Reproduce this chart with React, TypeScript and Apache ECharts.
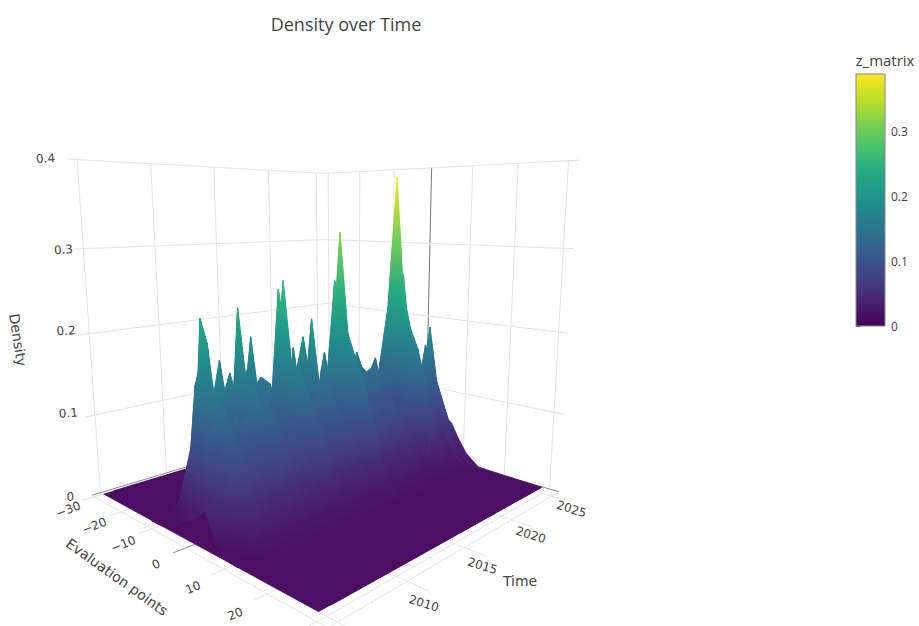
import React, { useEffect, useRef } from "react";
import * as echarts from "echarts";

// ---------- values ----------
const chartTitle = "Density over Time";
const colorbarTitle = "z_matrix";
const timeTicks = [2005, 2010, 2015, 2020, 2025];
const timeLabels = [2010, 2015, 2020, 2025];
const evalTicks = [-30, -20, -10, 0, 10, 20, 30];
const evalLabels = [-30, -20, -10, 0, 10, 20];
const zTicks = [0, 0.1, 0.2, 0.3, 0.4];
const zMaxValue = 0.388;

const evalPoints = [-30, -13, -11, -9, -7, -5, -3, -1, 1, 3, 5, 7, 9, 11, 14, 28.5];
const timePoints = [
  2005, 2005.8, 2006.15, 2006.45, 2006.65, 2007.05, 2007.35, 2007.85, 2008.15, 2008.55,
  2008.85, 2009.25, 2009.55, 2009.85, 2010.15, 2010.45, 2010.85, 2011.55, 2011.95, 2012.35,
  2012.55, 2012.75, 2013.05, 2013.25, 2013.5, 2013.75, 2014.35, 2014.75, 2015.1, 2015.25,
  2015.55, 2015.95, 2016.5, 2016.75, 2017, 2017.25, 2017.4, 2017.6, 2018, 2018.6,
  2019.1, 2019.6, 2020.1, 2020.5, 2021.2, 2021.75, 2022.2, 2022.6, 2022.85, 2023.1,
  2023.45, 2023.75, 2024, 2024.35, 2024.6, 2024.85, 2025.15, 2025.4, 2025.65, 2025.9,
];
const zMatrix = [
  [0, 0, 0, .001, .005, .012, .02, .025, .032, .045, .025, .008, .001, 0, 0, 0],
  [0, 0, .001, .004, .01, .018, .026, .03, .04, .05, .03, .011, .002, 0, 0, 0],
  [0, .002, .008, .026, .059, .092, .164, .102, .121, .102, .087, .063, .037, .017, .003, 0],
  [0, .002, .009, .029, .065, .101, .18, .112, .129, .108, .093, .067, .039, .019, .003, 0],
  [0, .002, .012, .037, .084, .131, .234, .145, .152, .128, .11, .079, .046, .022, .004, 0],
  [0, .002, .01, .033, .075, .116, .207, .128, .14, .118, .101, .073, .043, .02, .003, 0],
  [0, .001, .007, .024, .053, .083, .148, .092, .115, .097, .083, .06, .035, .017, .003, 0],
  [0, .002, .009, .03, .067, .104, .186, .115, .131, .11, .095, .068, .04, .019, .003, 0],
  [0, .002, .008, .024, .054, .085, .151, .094, .116, .098, .084, .06, .035, .017, .003, 0],
  [0, .002, .009, .027, .061, .095, .17, .105, .125, .105, .09, .065, .038, .018, .003, 0],
  [0, .002, .008, .024, .054, .084, .15, .093, .116, .097, .083, .06, .035, .017, .003, 0],
  [0, .002, .012, .038, .086, .134, .24, .149, .155, .13, .112, .081, .047, .022, .004, 0],
  [0, .002, .008, .027, .06, .093, .166, .103, .123, .103, .088, .064, .037, .018, .003, 0],
  [0, .002, .009, .027, .061, .095, .17, .105, .128, .11, .092, .065, .038, .018, .003, 0],
  [0, .002, .01, .033, .074, .115, .206, .128, .14, .118, .101, .073, .043, .02, .003, 0],
  [0, .002, .008, .024, .054, .084, .15, .093, .116, .097, .083, .06, .035, .017, .003, 0],
  [0, .002, .008, .025, .057, .088, .158, .098, .119, .1, .086, .062, .036, .017, .003, 0],
  [0, .001, .007, .024, .053, .083, .148, .092, .115, .097, .083, .06, .035, .017, .003, 0],
  [0, .001, .006, .02, .044, .069, .123, .076, .104, .09, .078, .054, .032, .015, .002, 0],
  [0, .003, .013, .041, .092, .143, .256, .159, .162, .136, .117, .084, .049, .023, .004, 0],
  [0, .002, .012, .038, .085, .132, .235, .146, .153, .128, .11, .079, .046, .022, .004, 0],
  [0, .003, .013, .042, .095, .148, .265, .164, .166, .139, .119, .086, .05, .024, .004, 0],
  [0, .002, .01, .03, .068, .106, .19, .118, .133, .112, .096, .069, .04, .019, .003, 0],
  [0, .001, .007, .024, .053, .082, .147, .091, .114, .099, .085, .059, .035, .016, .003, 0],
  [0, .002, .009, .03, .067, .104, .185, .115, .131, .11, .094, .068, .04, .019, .003, 0],
  [0, .002, .008, .025, .057, .088, .157, .097, .118, .099, .085, .061, .036, .017, .003, 0],
  [0, .002, .01, .031, .071, .11, .196, .122, .136, .114, .098, .071, .041, .02, .003, 0],
  [0, .002, .008, .025, .057, .088, .158, .098, .119, .104, .088, .062, .036, .017, .003, 0],
  [0, .002, .011, .035, .078, .121, .216, .134, .145, .122, .104, .075, .044, .021, .003, 0],
  [0, 0, .002, .008, .025, .055, .086, .154, .095, .103, .089, .066, .038, .017, .003, 0],
  [0, 0, .002, .009, .028, .063, .099, .176, .109, .112, .097, .071, .041, .018, .003, 0],
  [0, 0, .001, .007, .023, .052, .081, .144, .089, .099, .086, .063, .036, .016, .003, 0],
  [0, .001, .003, .013, .042, .094, .146, .261, .162, .144, .124, .092, .052, .024, .004, 0],
  [0, .001, .003, .013, .04, .09, .14, .25, .155, .14, .121, .089, .051, .023, .004, 0],
  [0, .001, .003, .016, .051, .114, .178, .318, .197, .167, .144, .106, .06, .027, .005, 0],
  [0, 0, .002, .01, .032, .072, .112, .2, .124, .121, .105, .077, .044, .02, .003, 0],
  [0, 0, .002, .008, .024, .054, .085, .151, .094, .103, .088, .065, .037, .017, .003, 0],
  [0, 0, .002, .009, .028, .062, .097, .173, .107, .111, .096, .071, .04, .018, .003, 0],
  [0, 0, .001, .007, .022, .05, .077, .138, .086, .097, .084, .062, .035, .016, .003, 0],
  [0, 0, .002, .008, .027, .06, .094, .168, .104, .109, .094, .069, .04, .018, .003, 0],
  [0, 0, .001, .007, .024, .053, .082, .147, .091, .1, .087, .064, .037, .016, .003, 0],
  [0, 0, .001, .007, .022, .05, .078, .139, .086, .098, .084, .062, .036, .016, .003, 0],
  [0, 0, .001, .007, .023, .051, .08, .143, .089, .099, .086, .063, .036, .016, .003, 0],
  [0, 0, .002, .008, .025, .056, .087, .155, .096, .103, .089, .066, .038, .017, .003, 0],
  [0, 0, .001, .006, .018, .041, .064, .115, .071, .088, .08, .056, .032, .014, .002, 0],
  [0, 0, .001, .007, .021, .047, .073, .13, .081, .094, .081, .06, .034, .015, .003, 0],
  [0, 0, .001, .006, .02, .045, .07, .125, .078, .092, .08, .059, .034, .015, .003, 0],
  [0, .001, .004, .019, .062, .139, .216, .385, .239, .192, .166, .122, .07, .031, .005, 0],
  [0, 0, .002, .01, .032, .072, .112, .2, .124, .121, .105, .077, .044, .02, .003, 0],
  [0, 0, .002, .011, .035, .079, .123, .22, .136, .129, .111, .082, .047, .021, .004, 0],
  [0, .001, .003, .013, .042, .094, .146, .26, .161, .144, .124, .092, .052, .024, .004, 0],
  [0, 0, 0, .001, .005, .017, .038, .059, .105, .065, .073, .054, .031, .014, .002, 0],
  [0, 0, 0, .001, .006, .019, .042, .065, .116, .072, .077, .057, .032, .015, .002, 0],
  [0, 0, 0, 0, .002, .008, .026, .059, .092, .165, .102, .076, .05, .024, .004, 0],
  [0, 0, 0, 0, .002, .008, .025, .056, .087, .155, .096, .072, .048, .023, .004, 0],
  [0, 0, 0, 0, .002, .009, .03, .068, .106, .189, .117, .085, .055, .026, .004, 0],
  [0, 0, 0, 0, .001, .006, .018, .04, .062, .11, .068, .058, .038, .019, .003, 0],
  [0, 0, 0, 0, .001, .005, .016, .036, .06, .07, .06, .045, .03, .015, .002, 0],
  [0, 0, 0, 0, 0, .002, .01, .025, .045, .062, .065, .05, .03, .014, .002, 0],
  [0, 0, 0, 0, 0, .001, .005, .015, .034, .055, .065, .055, .034, .017, .003, 0],
];

const viridis = [
  "#440154", "#482475", "#414487", "#355f8d", "#2a788e", "#21918c",
  "#22a884", "#44bf70", "#7ad151", "#bddf26", "#fde725",
];
const surfaceRamp = [
  "#4b0e63", "#482475", "#414487", "#355f8d", "#2a788e", "#21918c",
  "#22a884", "#44bf70", "#7ad151", "#bddf26", "#fde725",
];

// ---------- camera calibration: [evaluation, time, density, pageX, pageY] ----------
const EVAL_MIN = -31;
const EVAL_MAX = 32;
const TIME_MIN = 2004.4;
const TIME_MAX = 2026;
const Z_TOP = 0.4;
const cameraAnchors = [
  [-31, 2005, 0.4, 76, 159], [-31, 2010, 0.4, 150, 164], [-31, 2015, 0.4, 214, 168],
  [-31, 2020, 0.4, 270, 172], [-31, 2025, 0.4, 319, 174.5],
  [-30, 2026, 0.4, 329, 175], [-20, 2026, 0.4, 360, 172.7], [-10, 2026, 0.4, 394, 170],
  [0, 2026, 0.4, 431, 167.6], [10, 2026, 0.4, 473, 164.5], [20, 2026, 0.4, 517, 161.4],
  [30, 2026, 0.4, 568, 158],
  [-31, 2005, 0, 92, 489], [-31, 2010, 0, 160, 470], [-30, 2026, 0, 329, 425],
  [0, 2026, 0, 424, 453], [30, 2026, 0, 552, 491], [32, 2004.4, 0, 314, 626],
  [-20, 2003.6, 0, 117, 518], [-10, 2003.6, 0, 145, 535], [0, 2003.6, 0, 178, 555],
  [20, 2003.6, 0, 257, 602], [-10, 2003.6, 0, 145, 535], [0, 2003.6, 0, 178, 555],
  [-31, 2005, 0.2, 85, 330], [30, 2026, 0.2, 558, 332], [-30, 2026, 0.2, 329, 303],
];

function solveCamera(): number[] {
  const n = 11;
  const A: number[][] = Array.from({ length: n }, () => new Array(n + 1).fill(0));
  const add = (r: number[], b: number) => {
    for (let i = 0; i < n; i++) {
      for (let j = 0; j < n; j++) A[i][j] += r[i] * r[j];
      A[i][n] += r[i] * b;
    }
  };
  for (const [e, t, z, x, y] of cameraAnchors) {
    const u = e / 30, v = (t - 2015) / 10, w = z / 0.4;
    add([u, v, w, 1, 0, 0, 0, 0, -x * u, -x * v, -x * w], x);
    add([0, 0, 0, 0, u, v, w, 1, -y * u, -y * v, -y * w], y);
  }
  for (let c = 0; c < n; c++) {
    let p = c;
    for (let r = c + 1; r < n; r++) if (Math.abs(A[r][c]) > Math.abs(A[p][c])) p = r;
    [A[c], A[p]] = [A[p], A[c]];
    for (let r = 0; r < n; r++) {
      if (r === c) continue;
      const f = A[r][c] / A[c][c];
      for (let k = c; k <= n; k++) A[r][k] -= f * A[c][k];
    }
  }
  return A.map((row, i) => row[n] / row[i]);
}
const cam = solveCamera();
function project(e: number, t: number, z: number): number[] {
  const u = e / 30, v = (t - 2015) / 10, w = z / 0.4;
  const d = cam[8] * u + cam[9] * v + cam[10] * w + 1;
  return [
    (cam[0] * u + cam[1] * v + cam[2] * w + cam[3]) / d,
    (cam[4] * u + cam[5] * v + cam[6] * w + cam[7]) / d,
  ];
}

function rampColor(stops: string[], z: number): string {
  const f = Math.max(0, Math.min(1, z / zMaxValue)) * (stops.length - 1);
  const i = Math.min(stops.length - 2, Math.floor(f));
  const a = echarts.color.parse(stops[i]);
  const b = echarts.color.parse(stops[i + 1]);
  const k = f - i;
  return `rgb(${Math.round(a[0] + (b[0] - a[0]) * k)},${Math.round(a[1] + (b[1] - a[1]) * k)},${Math.round(a[2] + (b[2] - a[2]) * k)})`;
}

type Seg = { a: number[]; b: number[]; color: string; width: number };
const GRID = "#e4e4e4";
const ZERO = "#8a8a8a";
function buildSegments(): Seg[] {
  const s: Seg[] = [];
  for (const t of timeTicks) {
    s.push({ a: [EVAL_MIN, t, 0], b: [EVAL_MIN, t, Z_TOP], color: GRID, width: 1 });
    s.push({ a: [EVAL_MIN, t, 0], b: [EVAL_MAX + 4, t, 0], color: GRID, width: 1 });
  }
  for (const e of evalTicks) {
    s.push({ a: [e, TIME_MAX, 0], b: [e, TIME_MAX, Z_TOP], color: e === 0 ? "#777" : GRID, width: 1 });
    s.push({ a: [e, TIME_MAX, 0], b: [e, TIME_MIN - 0.8, 0], color: e === 0 ? ZERO : GRID, width: 1 });
  }
  for (const z of zTicks) {
    const c = z === 0 ? ZERO : GRID;
    s.push({ a: [EVAL_MIN, TIME_MIN, z], b: [EVAL_MIN, TIME_MAX, z], color: c, width: 1 });
    s.push({ a: [EVAL_MIN, TIME_MAX, z], b: [EVAL_MAX, TIME_MAX, z], color: c, width: 1 });
  }
  s.push({ a: [EVAL_MIN, TIME_MIN, 0], b: [EVAL_MAX, TIME_MIN, 0], color: GRID, width: 1 });
  s.push({ a: [EVAL_MAX, TIME_MIN, 0], b: [EVAL_MAX, TIME_MAX, 0], color: GRID, width: 1 });
  return s;
}

type Quad = { i: number; j: number };
function buildQuads(): Quad[] {
  const q: Quad[] = [];
  for (let i = timePoints.length - 2; i >= 0; i--) {
    for (let j = 0; j < evalPoints.length - 1; j++) {
      const sum = zMatrix[i][j] + zMatrix[i][j + 1] + zMatrix[i + 1][j] + zMatrix[i + 1][j + 1];
      if (sum > 0) q.push({ i, j });
    }
  }
  return q;
}

type Lab = { text: string; at: number[]; rot: number; dx: number; dy: number };
const zLabelShift = [[-4, 4], [0, -2], [4, -3], [8, 1], [-3, -1]];
function buildLabels(): Lab[] {
  const l: Lab[] = [];
  for (const e of evalLabels) {
    l.push({ text: String(e).replace("-", "\u2212"), at: [e - 1, TIME_MIN - 2.3, 0], rot: 0.38, dx: 11, dy: 4 });
  }
  for (const t of timeLabels) {
    l.push({ text: String(t), at: [EVAL_MAX + 5.3, t - 1.1, 0], rot: -0.3, dx: 1, dy: 0 });
  }
  zTicks.forEach((z, i) => {
    l.push({ text: String(z), at: [EVAL_MIN - 3.5, TIME_MIN - 0.6, z], rot: z === 0 ? 0 : 0.06, dx: zLabelShift[i][0], dy: zLabelShift[i][1] });
  });
  return l;
}

export default function App() {
  const ref = useRef<HTMLDivElement>(null);
  useEffect(() => {
    if (!ref.current) return;
    const chart = echarts.init(ref.current, undefined, { renderer: "svg" });
    const segs = buildSegments();
    const quads = buildQuads();
    const labels = buildLabels();
    const axisFont = "'DejaVu Sans', sans-serif";
    const uiFont = "'Open Sans', sans-serif";
    const lastT = timePoints.length - 1;
    const lastE = evalPoints.length - 1;

    chart.setOption({
      animation: false,
      backgroundColor: "#ffffff",
      title: {
        text: chartTitle,
        left: 341,
        top: 10,
        textAlign: "center",
        textStyle: { fontFamily: uiFont, fontSize: 18, fontWeight: "normal", color: "#444" },
      },
      grid: [
        { left: 0, top: 0, width: 919, height: 626 },
        { left: 856, top: 74, width: 29, height: 252 },
      ],
      xAxis: [
        { type: "value", min: 0, max: 919, show: false, gridIndex: 0 },
        { type: "value", min: 0, max: 1, show: false, gridIndex: 1 },
      ],
      yAxis: [
        { type: "value", min: 0, max: 626, inverse: true, show: false, gridIndex: 0 },
        {
          type: "value", min: 0, max: zMaxValue, interval: 0.1, gridIndex: 1, position: "right",
          axisLine: { show: false },
          axisTick: { show: true, length: 4, lineStyle: { color: "#444" } },
          splitLine: { show: false },
          axisLabel: {
            color: "#444", fontFamily: uiFont, fontSize: 12, margin: 6, showMaxLabel: false,
            formatter: (v: number) => String(Math.round(v * 10) / 10),
          },
        },
      ],
      graphic: [
        { type: "text", x: 885, y: 60, style: { text: colorbarTitle, fontFamily: uiFont, fontSize: 15, fill: "#444", textAlign: "center", textVerticalAlign: "middle" } },
        { type: "text", x: 520, y: 581, style: { text: "Time", fontFamily: axisFont, fontSize: 14, fill: "#444", textAlign: "center", textVerticalAlign: "middle" } },
        { type: "text", x: 117, y: 577, rotation: -0.62, style: { text: "Evaluation points", fontFamily: axisFont, fontSize: 14, fill: "#444", textAlign: "center", textVerticalAlign: "middle" } },
        { type: "text", x: 18, y: 340, rotation: -1.42, style: { text: "Density", fontFamily: axisFont, fontSize: 14, fill: "#444", textAlign: "center", textVerticalAlign: "middle" } },
      ],
      series: [
        {
          type: "custom", coordinateSystem: "cartesian2d", xAxisIndex: 0, yAxisIndex: 0,
          silent: true, clip: false, progressive: 0,
          data: segs.map((_, i) => [i]),
          renderItem: (p: any, api: any) => {
            const s = segs[p.dataIndex];
            const a = api.coord(project(s.a[0], s.a[1], s.a[2]));
            const b = api.coord(project(s.b[0], s.b[1], s.b[2]));
            return { type: "line", shape: { x1: a[0], y1: a[1], x2: b[0], y2: b[1] }, style: { stroke: s.color, lineWidth: s.width, fill: "none" } };
          },
        },
        {
          type: "custom", coordinateSystem: "cartesian2d", xAxisIndex: 0, yAxisIndex: 0,
          silent: true, clip: false, progressive: 0,
          data: [[0]],
          renderItem: (_p: any, api: any) => {
            const pts = [[0, 0], [lastE, 0], [lastE, lastT], [0, lastT]].map(([c, r]) =>
              api.coord(project(evalPoints[c], timePoints[r], 0)));
            return { type: "polygon", shape: { points: pts }, style: { fill: surfaceRamp[0] } };
          },
        },
        {
          type: "custom", coordinateSystem: "cartesian2d", xAxisIndex: 0, yAxisIndex: 0,
          silent: true, clip: false, progressive: 0,
          data: quads.map((_, i) => [i]),
          renderItem: (p: any, api: any) => {
            const { i, j } = quads[p.dataIndex];
            const corners = [[j, i], [j + 1, i], [j + 1, i + 1], [j, i + 1]];
            const zs = corners.map(([c, r]) => zMatrix[r][c]);
            const pts = corners.map(([c, r], k) => api.coord(project(evalPoints[c], timePoints[r], zs[k])));
            const zHi = Math.max(...zs);
            const zLo = Math.min(...zs);
            let fill: any = rampColor(surfaceRamp, (zHi + zLo) / 2);
            const yHi = pts[zs.indexOf(zHi)][1];
            const yLo = pts[zs.indexOf(zLo)][1];
            if (zHi - zLo > 0.0005 && Math.abs(yLo - yHi) > 1) {
              const stops = [0, 0.25, 0.5, 0.75, 1].map((o) => ({ offset: o, color: rampColor(surfaceRamp, zHi + (zLo - zHi) * o) }));
              fill = new echarts.graphic.LinearGradient(pts[0][0], yHi, pts[0][0], yLo, stops, true);
            }
            return { type: "polygon", shape: { points: pts }, style: { fill, stroke: fill, lineWidth: 0.8 } };
          },
        },
        {
          type: "custom", coordinateSystem: "cartesian2d", xAxisIndex: 0, yAxisIndex: 0,
          silent: true, clip: false, progressive: 0,
          data: labels.map((_, i) => [i]),
          renderItem: (p: any, api: any) => {
            const l = labels[p.dataIndex];
            const c = api.coord(project(l.at[0], l.at[1], l.at[2]));
            return {
              type: "text", x: c[0] + l.dx, y: c[1] + l.dy, rotation: l.rot,
              style: { text: l.text, fontFamily: axisFont, fontSize: 12, fill: "#444", textAlign: "center", textVerticalAlign: "middle" },
            };
          },
        },
        {
          type: "custom", coordinateSystem: "cartesian2d", xAxisIndex: 1, yAxisIndex: 1,
          silent: true, clip: false, progressive: 0,
          data: [[0]],
          renderItem: (_p: any, api: any) => {
            const a = api.coord([0, zMaxValue]);
            const b = api.coord([1, 0]);
            const n = viridis.length - 1;
            const stops = viridis.map((_c, i) => ({ offset: i / n, color: viridis[n - i] }));
            return {
              type: "rect",
              shape: { x: a[0], y: a[1], width: b[0] - a[0], height: b[1] - a[1] },
              style: { fill: new echarts.graphic.LinearGradient(0, 0, 0, 1, stops), stroke: "#888", lineWidth: 1 },
            };
          },
        },
      ],
    });
    return () => chart.dispose();
  }, []);
  return <div ref={ref} style={{ position: "absolute", left: 0, top: 0, width: 919, height: 626 }} />;
}
